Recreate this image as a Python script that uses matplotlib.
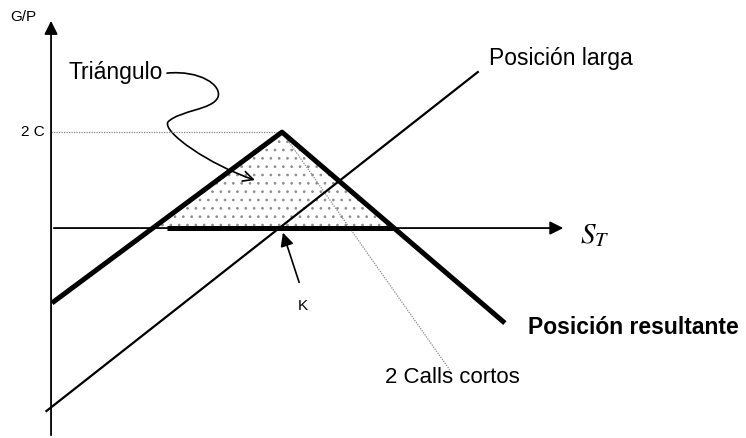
import numpy as np
import matplotlib.pyplot as plt
from matplotlib.path import Path
from matplotlib.patches import FancyArrowPatch

plt.rcParams['font.family'] = ['Liberation Sans', 'DejaVu Sans']
plt.rcParams['mathtext.fontset'] = 'stix'
plt.rcParams['hatch.linewidth'] = 0.7

# valores (unidades: S_T con K = 10)
K = 10.0
dos_c = 5.3

resultante_s = [0.04, K, 19.65]
resultante_gp = [-4.14, dos_c, -5.25]

larga_s = [-0.2, 18.48]
larga_gp = [-10.11, 8.62]

calls_s = [K, 17.27]
calls_gp = [dos_c, -7.85]

triangulo_s = [4.37, K, 14.8]
triangulo_gp = [0.0, dos_c, 0.0]

base_s = [5.0, 14.8]
base_gp = [0.0, 0.0]

# curva de la flecha "Triangulo"
curva = [(5.02, 8.56), (6.45, 8.73), (7.40, 7.90), (7.23, 7.24),
         (7.01, 6.52), (5.58, 6.52), (5.06, 5.86),
         (4.81, 5.30), (6.88, 3.48), (8.83, 2.65)]

fig = plt.figure(figsize=(7.46, 4.38), dpi=100)
ax = fig.add_axes([0, 0, 1, 1])
ax.set_xlim(-2.21, 30.09)
ax.set_ylim(-11.6, 12.6)
ax.axis('off')

# ejes
ax.annotate('', xy=(0, 11.6), xytext=(0, -11.6),
            arrowprops=dict(arrowstyle='-|>', lw=1.3, color='black', mutation_scale=20))
ax.annotate('', xy=(22.3, 0), xytext=(0, 0),
            arrowprops=dict(arrowstyle='-|>', lw=1.3, color='black', mutation_scale=20))

# triangulo punteado
ax.fill(triangulo_s, triangulo_gp, facecolor='none', edgecolor='#8c8c8c',
        hatch='..', lw=0)

# lineas
ax.plot([0, K], [dos_c, dos_c], color='#888888', lw=0.9, ls=(0, (1, 1)))
ax.plot(calls_s, calls_gp, color='#888888', lw=0.9, ls=(0, (1, 1)))
ax.plot(larga_s, larga_gp, color='black', lw=1.6)
ax.plot(resultante_s, resultante_gp, color='black', lw=3.6, solid_capstyle='butt')
ax.plot(base_s, base_gp, color='black', lw=3.6, solid_capstyle='butt')

# flecha K
ax.annotate('', xy=(K, -0.11), xytext=(10.78, -3.15),
            arrowprops=dict(arrowstyle='-|>', lw=1.2, color='black', mutation_scale=20))

# flecha curva del triangulo
codes = [Path.MOVETO] + [Path.CURVE4] * 9
flecha = FancyArrowPatch(path=Path(curva, codes), arrowstyle='->',
                         mutation_scale=18, lw=1.2, color='black')
ax.add_patch(flecha)

# textos
ax.text(-1.77, 11.66, 'G/P', fontsize=11, va='center', ha='left')
ax.text(-0.26, dos_c, '2 C', fontsize=11, va='center', ha='right')
ax.text(0.74, 8.62, 'Triángulo', fontsize=16.5, va='center', ha='left')
ax.text(18.96, 9.39, 'Posición larga', fontsize=16.5, va='center', ha='left')
ax.text(20.65, -5.52, 'Posición resultante', fontsize=16.5, fontweight='bold',
        va='center', ha='left')
ax.text(14.46, -8.23, '2 Calls cortos', fontsize=16, va='center', ha='left')
ax.text(10.9, -4.3, 'K', fontsize=11, va='center', ha='center')
ax.text(22.9, -0.39, r'$S_T$', fontsize=21, va='center', ha='left')

fig.savefig('out.png', dpi=100)
